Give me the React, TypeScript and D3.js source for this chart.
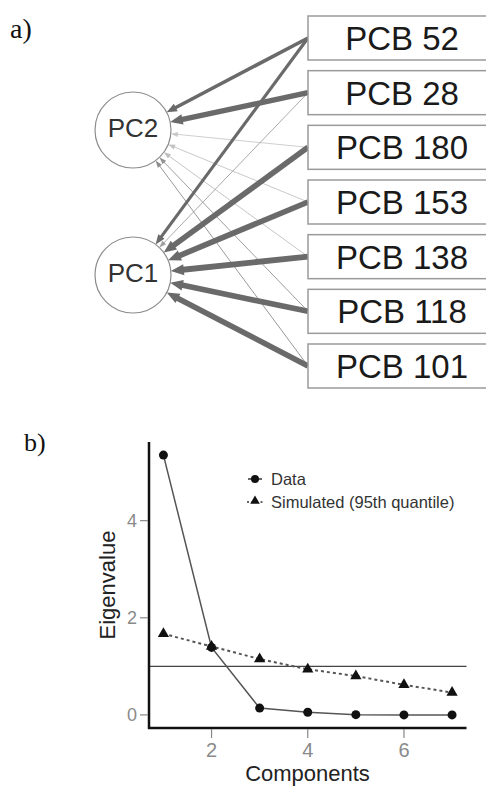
import React from "react";
import * as d3 from "d3";

// ---------- Panel a) data ----------
const pcbLabels = ["PCB 52", "PCB 28", "PCB 180", "PCB 153", "PCB 138", "PCB 118", "PCB 101"];
const componentLabels = ["PC2", "PC1"];
const loadingsPC1 = [0.55, 0.25, 0.93, 0.95, 0.98, 0.94, 0.93];
const loadingsPC2 = [0.62, 0.92, 0.1, 0.12, 0.14, 0.3, 0.32];

// ---------- Panel b) data ----------
const components = [1, 2, 3, 4, 5, 6, 7];
const eigenData = [5.35, 1.39, 0.14, 0.055, 0.005, 0.0, 0.0];
const eigenSimulated = [1.67, 1.41, 1.15, 0.94, 0.8, 0.62, 0.46];
const xTicks = [2, 4, 6];
const yTicks = [0, 2, 4];
const legendLabels = ["Data", "Simulated (95th quantile)"];

const SANS = "Liberation Sans, Arial, Helvetica, sans-serif";
const SERIF = "Liberation Serif, Times New Roman, serif";

function PathDiagram() {
  const boxX = 308;
  const boxW = 192;
  const boxH = 44;
  const yBox = d3.scalePoint<string>().domain(pcbLabels).range([38, 366]);
  const yNode = d3.scalePoint<string>().domain(componentLabels).range([130, 275]);
  const nodeX = 133;
  const nodeR = 38;

  const widthScale = (v: number) => (v < 0.4 ? 0.9 : d3.scaleLinear().domain([0.4, 1]).range([2.2, 6])(v));
  const colorScale = d3
    .scaleLinear<string>()
    .domain([0, 0.45])
    .range(["#e4e4e4", "#6a6a6a"])
    .clamp(true);

  const edges: { from: string; to: string; v: number }[] = [];
  pcbLabels.forEach((p, i) => {
    edges.push({ from: p, to: "PC2", v: loadingsPC2[i] });
    edges.push({ from: p, to: "PC1", v: loadingsPC1[i] });
  });
  // draw weaker edges first
  edges.sort((a, b) => a.v - b.v);

  return (
    <g>
      {edges.map((e, k) => {
        const x1 = boxX;
        const y1 = yBox(e.from)!;
        const cy = yNode(e.to)!;
        const dx = nodeX - x1;
        const dy = cy - y1;
        const len = Math.hypot(dx, dy);
        const ux = dx / len;
        const uy = dy / len;
        const tipX = nodeX - ux * nodeR;
        const tipY = cy - uy * nodeR;
        const w = widthScale(e.v);
        const aLen = 6 + w * 1.2;
        const aHalf = 2 + w * 0.6;
        const bx = tipX - ux * aLen;
        const by = tipY - uy * aLen;
        const px = -uy;
        const py = ux;
        const col = colorScale(e.v);
        return (
          <g key={k}>
            <line x1={x1} y1={y1} x2={bx + ux * 1} y2={by + uy * 1} stroke={col} strokeWidth={w} />
            <polygon
              points={`${tipX},${tipY} ${bx + px * aHalf},${by + py * aHalf} ${bx - px * aHalf},${by - py * aHalf}`}
              fill={col}
            />
          </g>
        );
      })}
      {componentLabels.map((c) => (
        <g key={c}>
          <circle cx={nodeX} cy={yNode(c)!} r={nodeR} fill="white" stroke="#8c8c8c" strokeWidth={1.2} />
          <text
            x={nodeX}
            y={yNode(c)! - 2}
            textAnchor="middle"
            dominantBaseline="central"
            fontFamily={SANS}
            fontSize={26}
            fill="#333"
          >
            {c}
          </text>
        </g>
      ))}
      {pcbLabels.map((p) => (
        <g key={p}>
          <rect
            x={boxX}
            y={yBox(p)! - boxH / 2}
            width={boxW}
            height={boxH}
            fill="white"
            stroke="#9a9a9a"
            strokeWidth={1.5}
          />
          <text x={402} y={yBox(p)! + 12} textAnchor="middle" fontFamily={SANS} fontSize={33} fill="#1a1a1a">
            {p}
          </text>
        </g>
      ))}
    </g>
  );
}

function ScreePlot() {
  const x = d3.scaleLinear().domain([0.7, 7.3]).range([149, 466.5]);
  const y = d3.scaleLinear().domain([-0.27, 5.62]).range([728, 442]);
  const line = d3
    .line<number>()
    .x((_, i) => x(components[i]))
    .y((d) => y(d));
  const tri = d3.symbol().type(d3.symbolTriangle).size(55)()!;
  const triSmall = d3.symbol().type(d3.symbolTriangle).size(40)()!;

  return (
    <g>
      {/* reference line at eigenvalue 1 */}
      <line x1={x(0.7)} x2={x(7.3)} y1={y(1)} y2={y(1)} stroke="#444" strokeWidth={1.2} />
      {/* simulated */}
      <path d={line(eigenSimulated)!} fill="none" stroke="#555" strokeWidth={2} strokeDasharray="3,3" />
      {/* data */}
      <path d={line(eigenData)!} fill="none" stroke="#555" strokeWidth={1.5} />
      {eigenSimulated.map((v, i) => (
        <path key={"t" + i} d={tri} transform={`translate(${x(components[i])},${y(v)})`} fill="#111" />
      ))}
      {eigenData.map((v, i) => (
        <circle key={"c" + i} cx={x(components[i])} cy={y(v)} r={4.5} fill="#111" />
      ))}
      {/* axes */}
      <line x1={149} x2={149} y1={442} y2={729} stroke="#111" strokeWidth={2.5} />
      <line x1={148} x2={466.5} y1={728} y2={728} stroke="#111" strokeWidth={2.5} />
      {yTicks.map((t) => (
        <g key={"y" + t}>
          <line x1={140} x2={148} y1={y(t)} y2={y(t)} stroke="#888" strokeWidth={1.2} />
          <text
            x={137}
            y={y(t)}
            textAnchor="end"
            dominantBaseline="central"
            fontFamily={SANS}
            fontSize={18}
            fill="#8a8a8a"
          >
            {t}
          </text>
        </g>
      ))}
      {xTicks.map((t) => (
        <g key={"x" + t}>
          <line x1={x(t)} x2={x(t)} y1={729} y2={738} stroke="#888" strokeWidth={1.2} />
          <text x={x(t)} y={757} textAnchor="middle" fontFamily={SANS} fontSize={20} fill="#8a8a8a">
            {t}
          </text>
        </g>
      ))}
      <text x={307.5} y={781} textAnchor="middle" fontFamily={SANS} fontSize={22} fill="#222">
        Components
      </text>
      <text
        transform={`translate(115,585) rotate(-90)`}
        textAnchor="middle"
        fontFamily={SANS}
        fontSize={22}
        fill="#222"
      >
        Eigenvalue
      </text>
      {/* legend */}
      <g>
        <line x1={248} x2={262} y1={479} y2={479} stroke="#333" strokeWidth={1.5} />
        <circle cx={255} cy={479} r={4} fill="#111" />
        <text x={271} y={479} dominantBaseline="central" fontFamily={SANS} fontSize={16.5} fill="#333">
          {legendLabels[0]}
        </text>
        <line x1={247} x2={263} y1={502} y2={502} stroke="#333" strokeWidth={1.5} strokeDasharray="2,2.5" />
        <path d={triSmall} transform="translate(255,501)" fill="#111" />
        <text x={271} y={502} dominantBaseline="central" fontFamily={SANS} fontSize={16.5} fill="#333">
          {legendLabels[1]}
        </text>
      </g>
    </g>
  );
}

export default function App() {
  return (
    <svg
      width={486}
      height={787}
      viewBox="0 0 486 787"
      style={{ position: "absolute", left: 0, top: 0, background: "white" }}
    >
      <text x={10} y={38} fontFamily={SERIF} fontSize={28} fill="#111">
        a)
      </text>
      <text x={24} y={451} fontFamily={SERIF} fontSize={26} fill="#111">
        b)
      </text>
      <PathDiagram />
      <ScreePlot />
    </svg>
  );
}
